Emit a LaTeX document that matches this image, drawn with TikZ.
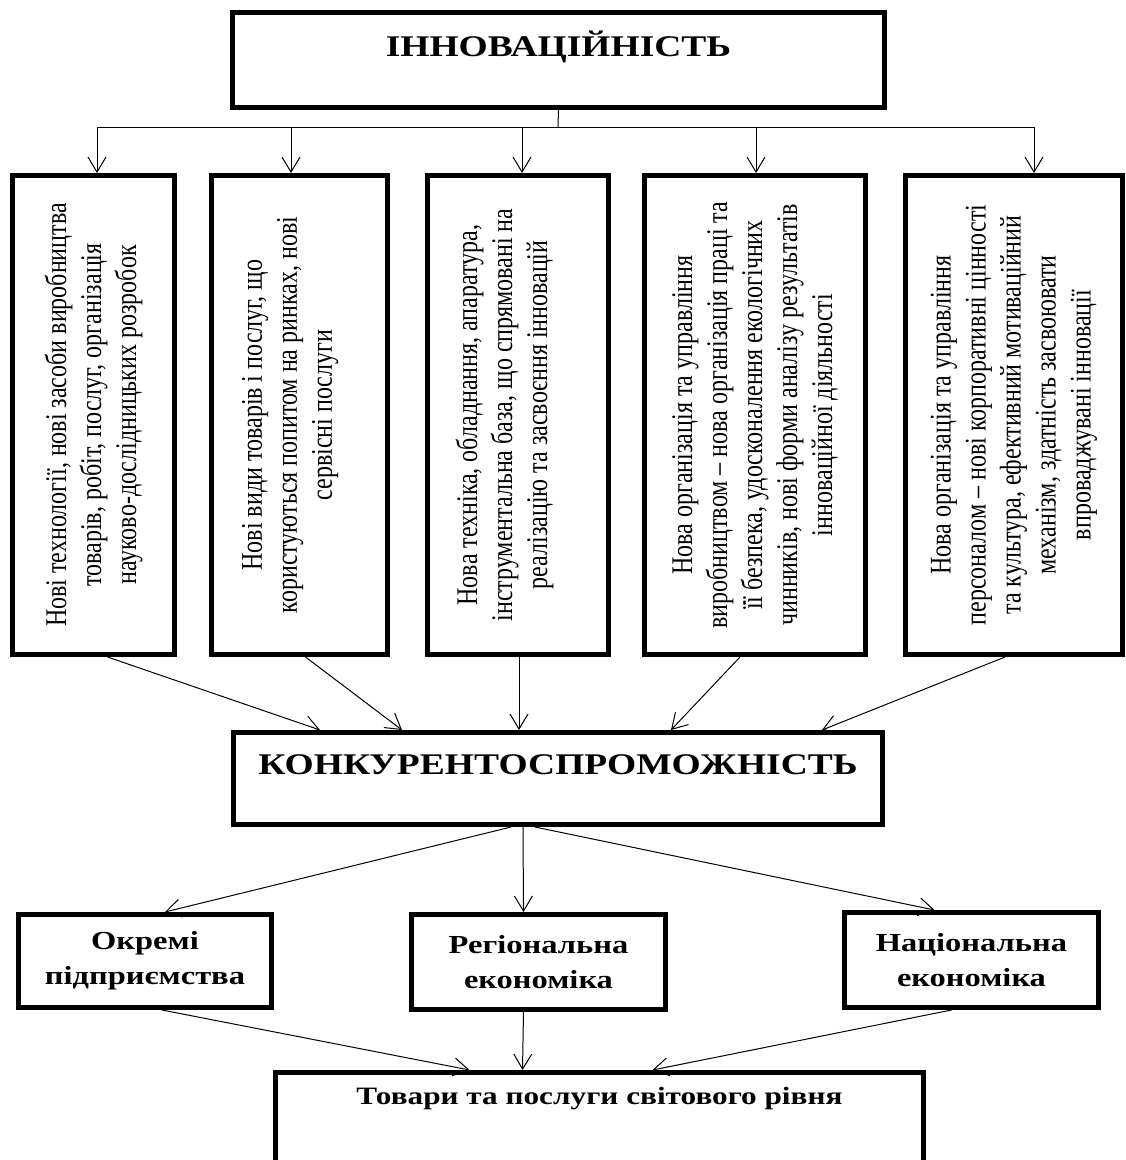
\documentclass[tikz,border=0pt]{standalone}
\usepackage{fontspec}
\setmainfont{Liberation Serif}
\newfontfamily\vertfont[FakeStretch=0.8]{Liberation Serif}
\newfontfamily\widefont[FakeStretch=1.25]{Liberation Serif}
\usetikzlibrary{arrows.meta}
\tikzset{
  titlebox/.style={
    draw,
    line width=5pt,
    fill=white,
    align=center,
    text height=22pt,
    text depth=30pt,
    font=\widefont\bfseries\fontsize{30}{36}\selectfont
  },
  factor/.style={
    draw,
    line width=5pt,
    fill=white,
    rotate=90,
    align=center,
    inner sep=6pt,
    font=\vertfont\fontsize{30}{35}\selectfont
  },
  sector/.style={
    draw,
    line width=5pt,
    fill=white,
    align=center,
    font=\widefont\bfseries\fontsize{26}{35}\selectfont
  },
  arrow/.style={
    -{Straight Barb[length=15pt,width=18pt]},
    line width=1pt
  }
}

\begin{document}
\begin{tikzpicture}[x=1pt,y=-1pt]
\useasboundingbox (0,0) rectangle (1126,1160);

\node[titlebox, minimum width=652pt, minimum height=95pt] (top) at (558.5,60) {ІННОВАЦІЙНІСТЬ};

\node[factor, minimum width=479pt, minimum height=162pt] (b1) at (93.5,415)
  {Нові технології, нові засоби виробництва\\товарів, робіт, послуг, організація\\науково-дослідницьких розробок};
\node[factor, minimum width=479pt, minimum height=176pt] (b2) at (299.5,415)
  {Нові види товарів і послуг, що\\користуються попитом на ринках, нові\\сервісні послуги\\[-10pt]\mbox{}};
\node[factor, minimum width=479pt, minimum height=181pt] (b3) at (518,415)
  {Нова техніка, обладнання, апаратура,\\інструментальна база, що спрямовані на\\реалізацію та засвоєння інновацій\\[-2pt]\mbox{}};
\node[factor, minimum width=479pt, minimum height=221pt] (b4) at (755,415)
  {Нова організація та управління\\виробництвом – нова організація праці та\\її безпека, удосконалення екологічних\\чинників, нові форми аналізу результатів\\інноваційної діяльності};
\node[factor, minimum width=479pt, minimum height=217pt] (b5) at (1014,415)
  {Нова організація та управління\\персоналом – нові корпоративні цінності\\та культура, ефективний мотиваційний\\механізм, здатність засвоювати\\впроваджувані інновації};

\node[titlebox, minimum width=649pt, minimum height=92pt] (mid) at (558,778.5) {КОНКУРЕНТОСПРОМОЖНІСТЬ};

\node[sector, minimum width=253pt, minimum height=93pt] (l) at (145,961) {Окремі\\підприємства};
\node[sector, minimum width=254pt, minimum height=95pt] (c) at (538.5,962) {Регіональна\\економіка};
\node[sector, minimum width=254pt, minimum height=95pt] (r) at (971.5,960) {Національна\\економіка};

\node[sector, minimum width=648pt, minimum height=105pt, text depth=58pt,
  font=\widefont\bfseries\fontsize{25}{30}\selectfont] (bot) at (599.5,1125)
  {Товари та послуги світового рівня};

% fork under the top box
\coordinate (fork) at (558,127);
\coordinate (f1) at (97,127);
\coordinate (f2) at (291,127);
\coordinate (f3) at (522,127);
\coordinate (f4) at (756,127);
\coordinate (f5) at (1034,127);
\draw[line width=1pt] (top.south) -- (fork);
\draw[line width=1pt] (f1) -- (f5);
\foreach \i in {1,...,5}
  \draw[arrow] (f\i) -- (f\i |- b\i.east);

% factors into competitiveness
\draw[arrow] ([xshift=14pt]b1.west) -- ([xshift=-238pt]mid.north);
\draw[arrow] ([xshift=6pt]b2.west) -- ([xshift=-156pt]mid.north);
\draw[arrow] ([xshift=1pt]b3.west) -- ([xshift=-39pt]mid.north);
\draw[arrow] ([xshift=-15pt]b4.west) -- ([xshift=113pt]mid.north);
\draw[arrow] ([xshift=-9pt]b5.west) -- ([xshift=264pt]mid.north);

% competitiveness into levels
\draw[arrow] ([xshift=-47pt]mid.south) -- ([xshift=20pt]l.north);
\draw[arrow] ([xshift=-35pt]mid.south) -- ([xshift=-15pt]c.north);
\draw[arrow] ([xshift=-23pt]mid.south) -- ([xshift=-37pt]r.north);

% levels into world-class goods
\draw[arrow] ([xshift=17pt]l.south) -- ([xshift=-130pt]bot.north);
\draw[arrow] ([xshift=-15pt]c.south) -- ([xshift=-77pt]bot.north);
\draw[arrow] ([xshift=-20pt]r.south) -- ([xshift=53pt]bot.north);
\end{tikzpicture}
\end{document}
